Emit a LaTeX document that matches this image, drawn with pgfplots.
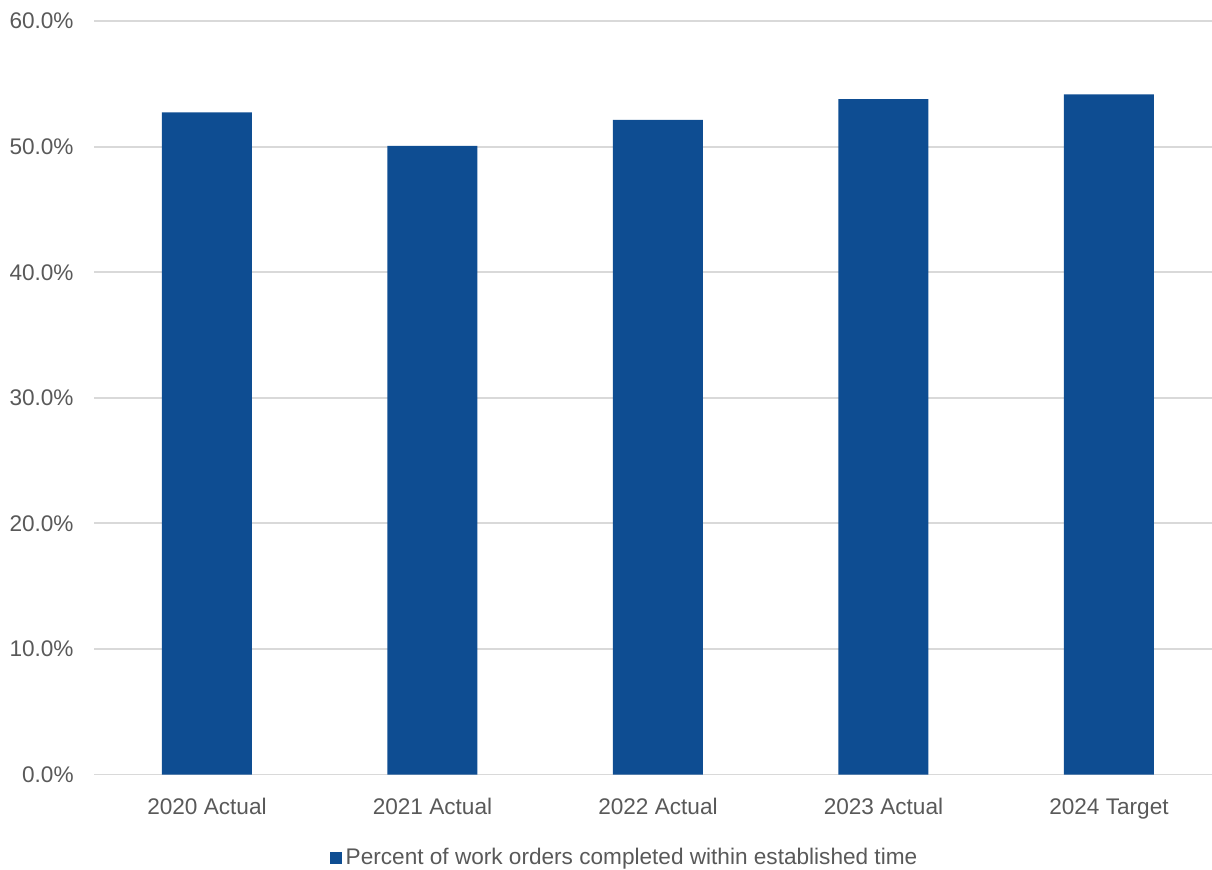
\documentclass[border=0pt]{standalone}
\usepackage{pgfplots}
\pgfplotsset{compat=1.18}
\usepackage{fontspec}
\setmainfont{Liberation Sans}
\definecolor{barblue}{RGB}{14,77,146}
\definecolor{txtgray}{RGB}{89,89,89}
\definecolor{gridgray}{RGB}{217,217,217}
\begin{document}
\begin{tikzpicture}[x=1pt,y=1pt]
\begin{axis}[
  at={(47pt,47.25pt)}, anchor=south west,
  scale only axis,
  width=559pt, height=376.7pt,
  xmin=-0.501, xmax=4.457,
  ymin=0, ymax=60,
  ytick={0,10,20,30,40,50,60},
  yticklabels={0.0\%,10.0\%,20.0\%,30.0\%,40.0\%,50.0\%,60.0\%},
  xtick={0,1,2,3,4},
  xticklabels={2020 Actual,2021 Actual,2022 Actual,2023 Actual,2024 Target},
  axis line style={draw=none},
  major tick style={draw=none},
  ymajorgrids,
  grid style={gridgray, line width=0.9pt},
  tick label style={font=\fontsize{11.3}{13}\selectfont, text=txtgray},
  yticklabel style={inner sep=0pt, anchor=east, xshift=-10pt},
  xticklabel style={inner sep=0pt, anchor=base, yshift=-20.2pt},
  legend style={at={(0.4754,-0.1108)}, anchor=center, draw=none,
    font=\fontsize{11.3}{13}\selectfont, text=txtgray, inner sep=0pt},
  legend image code/.code={\fill[barblue] (0pt,-3pt) rectangle (6pt,3pt);},
  legend cell align=left,
]
\addplot[ybar, bar width=45pt, fill=barblue, draw=none] coordinates {
  (0,52.74) (1,50.06) (2,52.13) (3,53.78) (4,54.17)
};
\addlegendentry{Percent of work orders completed within established time}
\end{axis}
\pgfresetboundingbox
\useasboundingbox (0,0) rectangle (606pt,434.5pt);
\end{tikzpicture}
\end{document}
